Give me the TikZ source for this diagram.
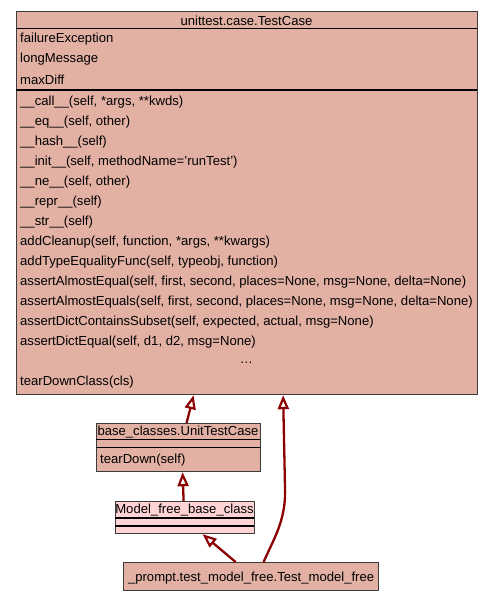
\documentclass[tikz,border=0pt]{standalone}
\usepackage{fontspec}
\setmainfont{Liberation Sans}
\usetikzlibrary{arrows.meta}
\definecolor{classfill}{RGB}{227,177,164}
\definecolor{basefill}{RGB}{255,211,211}
\definecolor{edgered}{RGB}{139,0,0}
\definecolor{boxline}{RGB}{60,60,60}
\begin{document}
\begin{tikzpicture}[x=1pt, y=-1pt,
    classbox/.style={draw=boxline, line width=1.2pt, fill=classfill, inner sep=0pt, anchor=north west},
    basebox/.style={classbox, fill=basefill},
    member/.style={anchor=west, inner sep=0pt, font=\fontsize{13.1}{15}\selectfont},
    title/.style={inner sep=0pt, font=\fontsize{13.1}{15}\selectfont},
    divider/.style={draw=black, line width=1.2pt},
    inherit/.style={draw=edgered, line width=2.3pt,
        -{Triangle[open, fill=white, length=14pt, width=11pt, line width=2.2pt]}}
]
    \useasboundingbox (0,0) rectangle (493,601);

    % unittest.case.TestCase
    \node[classbox, minimum width=461pt, minimum height=383pt] (testcase) at (16,11) {};
    \draw[divider] (16,28.5) -- (477,28.5);
    \draw[divider] (16,90) -- (477,90);
    \node[title] (tc-title) at (246.5,21) {unittest.case.TestCase};
    \foreach \y/\name/\txt in {38/a1/failureException, 58/a2/longMessage, 78/a3/maxDiff}
        \node[member] (tc-\name) at (20,\y+1.5) {\txt};
    \foreach \y/\name/\txt in {
        101/m1/{\_\_call\_\_(self, *args, **kwds)},
        121/m2/{\_\_eq\_\_(self, other)},
        141/m3/{\_\_hash\_\_(self)},
        161/m4/{\_\_init\_\_(self, methodName='runTest')},
        181/m5/{\_\_ne\_\_(self, other)},
        201/m6/{\_\_repr\_\_(self)},
        221/m7/{\_\_str\_\_(self)},
        241/m8/{addCleanup(self, function, *args, **kwargs)},
        261/m9/{addTypeEqualityFunc(self, typeobj, function)},
        281/m10/{assertAlmostEqual(self, first, second, places=None, msg=None, delta=None)},
        301/m11/{assertAlmostEquals(self, first, second, places=None, msg=None, delta=None)},
        321/m12/{assertDictContainsSubset(self, expected, actual, msg=None)},
        341/m13/{assertDictEqual(self, d1, d2, msg=None)},
        381/m14/{tearDownClass(cls)}}
        \node[member] (tc-\name) at (20,\y+1.5) {\txt};
    \node[title] (tc-dots) at (246.5,362.5) {\dots};

    % base_classes.UnitTestCase
    \node[classbox, minimum width=164pt, minimum height=48pt] (unittestcase) at (96,423) {};
    \draw[divider] (96,439.5) -- (260,439.5);
    \draw[divider] (96,447.5) -- (260,447.5);
    \node[title] (utc-title) at (178,432.5) {base\_classes.UnitTestCase};
    \node[member] (utc-m1) at (100,460.5) {tearDown(self)};

    % Model_free_base_class
    \node[basebox, minimum width=139pt, minimum height=32pt] (modelbase) at (115,501) {};
    \draw[divider] (115,518) -- (254,518);
    \draw[divider] (115,526) -- (254,526);
    \node[title] (mb-title) at (184.5,510.5) {Model\_free\_base\_class};

    % _prompt.test_model_free.Test_model_free
    \node[classbox, minimum width=255pt, minimum height=28pt] (testmodel) at (123,562) {};
    \node[title] (tm-title) at ([yshift=-1.5pt]testmodel.center) {\_prompt.test\_model\_free.Test\_model\_free};

    % inheritance
    \draw[inherit] ([xshift=8pt]unittestcase.north) -- ([xshift=-53.5pt]testcase.south);
    \draw[inherit] ([xshift=-1.5pt]modelbase.north) -- ([xshift=4pt]unittestcase.south);
    \draw[inherit] ([xshift=-15.5pt]testmodel.north) -- ([xshift=17.5pt]modelbase.south);
    \draw[inherit] ([xshift=12.5pt]testmodel.north)
        .. controls ([xshift=22pt, yshift=22pt]testmodel.north) and ([xshift=34pt, yshift=40pt]testmodel.north)
        .. ([xshift=34pt, yshift=70pt]testmodel.north)
        -- ([xshift=36pt]testcase.south);
\end{tikzpicture}
\end{document}
